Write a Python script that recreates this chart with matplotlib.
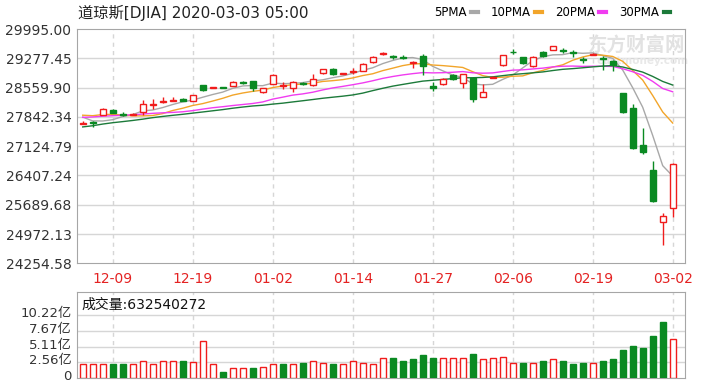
import numpy as np
import matplotlib
matplotlib.use("Agg")
import matplotlib.pyplot as plt
from matplotlib.lines import Line2D
import matplotlib.transforms as mtransforms

plt.rcParams['font.family'] = ['DejaVu Sans', 'Noto Sans CJK SC']

# ── Data (DJIA daily, 2019-12-04 .. 2020-03-02) ──────────────────────────
dates = ['12-04', '12-05', '12-06', '12-09', '12-10', '12-11', '12-12', '12-13', '12-16', '12-17',
         '12-18', '12-19', '12-20', '12-23', '12-24', '12-26', '12-27', '12-30', '12-31', '01-02',
         '01-03', '01-06', '01-07', '01-08', '01-09', '01-10', '01-13', '01-14', '01-15', '01-16',
         '01-17', '01-21', '01-22', '01-23', '01-24', '01-27', '01-28', '01-29', '01-30', '01-31',
         '02-03', '02-04', '02-05', '02-06', '02-07', '02-10', '02-11', '02-12', '02-13', '02-14',
         '02-18', '02-19', '02-20', '02-21', '02-24', '02-25', '02-26', '02-27', '02-28', '03-02']

opens = [27665, 27720, 27890, 28010, 27910, 27890, 27960, 28130, 28200, 28240,
         28290, 28240, 28620, 28560, 28575, 28600, 28690, 28710, 28450, 28650,
         28590, 28540, 28680, 28620, 28910, 29020, 28900, 28950, 28970, 29180,
         29390, 29330, 29300, 29160, 29330, 28590, 28640, 28870, 28680, 28800,
         28340, 28800, 29120, 29440, 29300, 29080, 29440, 29480, 29470, 29430,
         29260, 29360, 29290, 29220, 28420, 28050, 27150, 26540, 25275, 25600]
highs = [27730, 27730, 28050, 28030, 27950, 27930, 28255, 28290, 28337, 28320,
         28300, 28380, 28630, 28580, 28580, 28710, 28720, 28715, 28560, 28900,
         28700, 28710, 28690, 28885, 29020, 29030, 28920, 29050, 29150, 29330,
         29430, 29370, 29360, 29200, 29380, 28700, 28790, 28900, 28900, 28820,
         28640, 28840, 29370, 29510, 29320, 29330, 29450, 29585, 29540, 29480,
         29320, 29400, 29330, 29240, 28430, 28150, 27560, 26770, 25480, 26700]
lows = [27660, 27600, 27880, 27940, 27860, 27880, 27890, 28040, 28190, 28230,
        28230, 28230, 28470, 28540, 28550, 28595, 28640, 28480, 28420, 28640,
        28520, 28460, 28630, 28600, 28900, 28880, 28890, 28900, 28960, 29170,
        29370, 29250, 29250, 29030, 28880, 28470, 28620, 28750, 28540, 28210,
        28330, 28790, 29100, 29380, 29140, 29060, 29320, 29470, 29410, 29320,
        29160, 29350, 29000, 28960, 27940, 27050, 26930, 25760, 24700, 25395]
closes = [27680, 27700, 28040, 27940, 27890, 27915, 28160, 28150, 28235, 28267,
          28239, 28376, 28500, 28570, 28560, 28700, 28670, 28550, 28550, 28880,
          28630, 28700, 28650, 28760, 29010, 28890, 28915, 28970, 29130, 29320,
          29400, 29300, 29280, 29175, 29080, 28560, 28760, 28760, 28890, 28280,
          28440, 28830, 29360, 29420, 29155, 29320, 29330, 29580, 29450, 29400,
          29240, 29380, 29250, 29110, 27970, 27070, 26990, 25790, 25415, 26690]

ma5 = [27836, 27743, 27741, 27773, 27850, 27897, 27989, 28011, 28070, 28145,
       28210, 28253, 28323, 28390, 28449, 28541, 28600, 28610, 28606, 28670,
       28656, 28662, 28682, 28724, 28750, 28802, 28845, 28909, 28983, 29045,
       29147, 29224, 29286, 29295, 29247, 29079, 28971, 28867, 28810, 28650,
       28626, 28640, 28760, 28866, 29041, 29217, 29317, 29361, 29367, 29416,
       29400, 29410, 29344, 29276, 28990, 28556, 28078, 27386, 26647, 26391]
ma10 = [27883, 27871, 27899, 27905, 27887, 27867, 27866, 27876, 27922, 27998,
        28054, 28121, 28167, 28230, 28297, 28376, 28427, 28467, 28498, 28560,
        28599, 28631, 28646, 28665, 28710, 28729, 28754, 28796, 28854, 28898,
        28975, 29035, 29098, 29139, 29146, 29113, 29098, 29077, 29053, 28949,
        28853, 28806, 28814, 28838, 28846, 28922, 28979, 29061, 29117, 29229,
        29309, 29364, 29353, 29322, 29203, 28978, 28744, 28365, 27962, 27691]
ma20 = [27830, 27840, 27858, 27871, 27881, 27892, 27911, 27929, 27941, 27952,
        27967, 27995, 28032, 28066, 28091, 28120, 28145, 28170, 28208, 28277,
        28325, 28375, 28405, 28446, 28502, 28551, 28589, 28630, 28674, 28727,
        28785, 28831, 28870, 28901, 28927, 28920, 28924, 28935, 28952, 28922,
        28912, 28919, 28954, 28987, 28994, 29016, 29036, 29067, 29083, 29087,
        29079, 29083, 29081, 29078, 29022, 28948, 28859, 28711, 28537, 28457]
ma30 = [27596, 27625, 27666, 27699, 27726, 27754, 27786, 27823, 27853, 27880,
        27905, 27934, 27962, 27991, 28020, 28054, 28083, 28109, 28127, 28155,
        28178, 28208, 28237, 28267, 28298, 28324, 28349, 28379, 28424, 28485,
        28542, 28595, 28637, 28678, 28718, 28739, 28759, 28779, 28801, 28801,
        28808, 28823, 28852, 28880, 28900, 28921, 28943, 28977, 29007, 29024,
        29045, 29067, 29087, 29099, 29064, 29004, 28939, 28833, 28710, 28622]

# volume in 亿 (1e8 shares); vol_up: close above previous close
volumes = [2.24, 2.24, 2.24, 2.24, 2.24, 2.24, 2.76, 2.24, 2.76, 2.76,
           2.87, 2.65, 6.07, 2.24, 0.96, 1.70, 1.70, 1.70, 1.80, 2.30,
           2.30, 2.30, 2.55, 2.76, 2.55, 2.30, 2.30, 2.76, 2.55, 2.33,
           3.29, 3.29, 2.87, 3.08, 3.72, 3.29, 3.29, 3.29, 3.29, 3.99,
           3.08, 3.29, 3.51, 2.55, 2.40, 2.40, 2.76, 3.08, 2.76, 2.24,
           2.55, 2.40, 2.76, 3.08, 4.52, 5.21, 4.89, 6.76, 9.15, 6.33]
vol_up = [1, 1, 1, 0, 0, 1, 1, 1, 1, 1,
          0, 1, 1, 1, 0, 1, 1, 0, 1, 1,
          0, 1, 0, 1, 1, 0, 1, 1, 1, 1,
          1, 0, 0, 0, 0, 0, 1, 1, 1, 0,
          1, 1, 1, 1, 0, 1, 0, 1, 0, 0,
          0, 1, 0, 0, 0, 0, 0, 0, 0, 1]
last_volume = 632540272

price_ticks = [24254.58, 24972.13, 25689.68, 26407.24, 27124.79, 27842.34, 28559.90, 29277.45, 29995.00]
vol_ticks = [0, 2.555, 5.11, 7.665, 10.22]
vol_labels = ['0', '2.56亿', '5.11亿', '7.67亿', '10.22亿']
label_idx = [3, 11, 19, 27, 35, 43, 51, 59]

# ── Style ──────────────────────────────────────────────────────────────────
RED = '#f01c1c'
GREEN = '#0a8a22'
GRID = '#d6d6d6'
SPINE = '#a6a6a6'
ma_colors = ['#a8a8a8', '#f2a52a', '#f03cf0', '#1c7a3a']

W, H = 702, 389
fig = plt.figure(figsize=(W / 100, H / 100), dpi=100)
ax = fig.add_axes([77 / W, 1 - 263.3 / H, 608 / W, 234.3 / H])
ax2 = fig.add_axes([77 / W, 1 - 378.3 / H, 608 / W, 86 / H])

x = np.arange(len(dates))
o, h, l, c = map(np.array, (opens, highs, lows, closes))
up = c >= o

# ── Price panel ────────────────────────────────────────────────────────────
for xi in label_idx:
    ax.axvline(xi, color=GRID, lw=1, ls=(0, (3, 3)), zorder=0)
for yt in price_ticks[1:-1]:
    ax.axhline(yt, color=GRID, lw=1, zorder=0)

for ma, col in zip([ma5, ma10, ma20, ma30], ma_colors):
    ax.plot(x, ma, color=col, lw=1, zorder=2)

cols = np.where(up, RED, GREEN)
ax.vlines(x, l, h, colors=cols, lw=1, zorder=3)
ax.bar(x, np.maximum(np.abs(c - o), 4), bottom=np.minimum(o, c), width=0.62,
       facecolor=np.where(up, 'white', GREEN), edgecolor=cols, linewidth=1, zorder=4)

ax.set_xlim(-0.57, 60.23)
ax.set_ylim(price_ticks[0], price_ticks[-1])
ax.set_yticks(price_ticks)
ax.set_yticklabels([f'{v:.2f}' for v in price_ticks], fontsize=10, color='#333333')
ax.set_xticks(label_idx)
ax.set_xticklabels([dates[i] for i in label_idx], fontsize=10, color='#e42222')
ax.tick_params(length=0, pad=4)
ax.tick_params(axis='x', pad=6)
for s in ax.spines.values():
    s.set_color(SPINE)

# ── Volume panel ───────────────────────────────────────────────────────────
for xi in label_idx:
    ax2.axvline(xi, color=GRID, lw=1, ls=(0, (3, 3)), zorder=0)
for yt in vol_ticks[1:]:
    ax2.axhline(yt, color=GRID, lw=1, zorder=0)
vup = np.array(vol_up, dtype=bool)
vcols = np.where(vup, RED, GREEN)
ax2.bar(x, volumes, width=0.62, facecolor=np.where(vup, 'white', GREEN),
        edgecolor=vcols, linewidth=1, zorder=3)
ax2.set_xlim(-0.57, 60.23)
ax2.set_ylim(0, 13.9)
ax2.set_xticks([])
ax2.set_yticks(vol_ticks)
ax2.set_yticklabels(vol_labels, fontsize=9.5, color='#333333')
ax2.tick_params(length=0, pad=4)
shift = mtransforms.ScaledTranslation(0, 3 / 100, fig.dpi_scale_trans)
for lab in ax2.get_yticklabels():
    lab.set_transform(lab.get_transform() + shift)
for s in ax2.spines.values():
    s.set_color(SPINE)
ax2.text(0.008, 0.85, f'成交量:{last_volume}', transform=ax2.transAxes,
         fontsize=10, color='#111111', va='center', ha='left')

# ── Title, legend, watermark ───────────────────────────────────────────────
fig.text(78 / W, 1 - 13 / H, '道琼斯[DJIA] 2020-03-03 05:00', fontsize=11,
         color='#222222', va='center', ha='left')

handles = [Line2D([], [], color=col, lw=3) for col in ma_colors]
fig.legend(handles, ['5PMA', '10PMA', '20PMA', '30PMA'], ncol=4, markerfirst=False,
           loc='center right', bbox_to_anchor=(670 / W, 1 - 13 / H), frameon=False,
           fontsize=8.5, handlelength=0.55, handletextpad=0.4, columnspacing=1.1,
           borderpad=0, borderaxespad=0)

ax.text(0.92, 0.93, '东方财富网', transform=ax.transAxes, fontsize=14, fontweight='bold',
        color='#e2e2e2', ha='center', va='center', zorder=1)
ax.text(0.93, 0.865, 'eastmoney.com', transform=ax.transAxes, fontsize=7.5, fontweight='bold',
        color='#e8e8e8', ha='center', va='center', zorder=1)

fig.savefig('out.png', dpi=100, facecolor='white')
